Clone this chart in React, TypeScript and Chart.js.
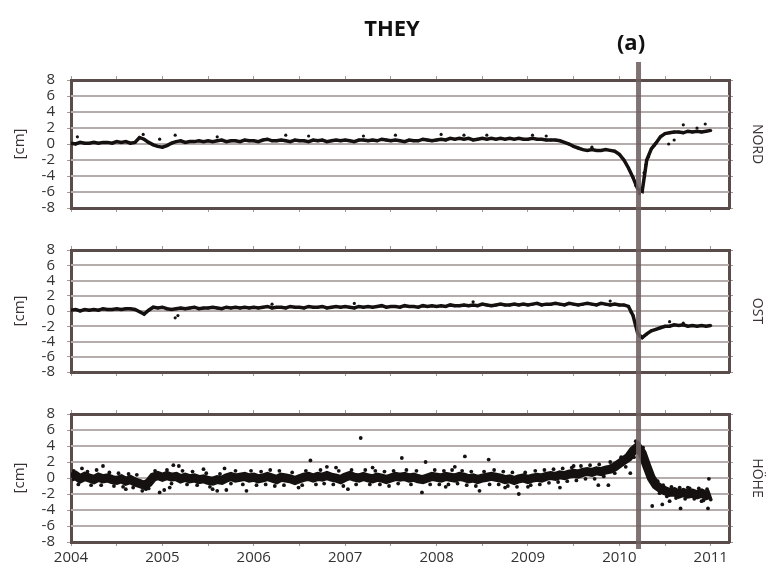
import React, { useEffect, useRef } from "react";
import { Chart, registerables } from "chart.js";

Chart.register(...registerables);

// ---------------- data ----------------
const TITLE = "THEY";
const EVENT_LABEL = "(a)";
const UNIT = "[cm]";
const PANEL_LABELS = ["NORD", "OST", "HÖHE"];

const START_YEAR = 2004;
const STEP = 0.05; // sampling interval of the series (years)
const X_MIN = 2004;
const X_MAX = 2011.2;
const YEAR_TICKS = [2004, 2005, 2006, 2007, 2008, 2009, 2010, 2011];
const Y_TICKS = [-8, -6, -4, -2, 0, 2, 4, 6, 8];
const EVENT_YEAR = 2010.21;

const NORD = [
  0.1, 0.0, 0.2, 0.1, 0.1, 0.2, 0.1, 0.2, 0.2, 0.1,
  0.3, 0.2, 0.3, 0.1, 0.2, 0.8, 0.6, 0.2, -0.1, -0.3,
  -0.4, -0.2, 0.1, 0.3, 0.4, 0.2, 0.3, 0.3, 0.4, 0.3,
  0.4, 0.3, 0.4, 0.5, 0.3, 0.4, 0.4, 0.3, 0.5, 0.4,
  0.4, 0.3, 0.5, 0.6, 0.4, 0.4, 0.5, 0.4, 0.3, 0.5,
  0.4, 0.4, 0.3, 0.5, 0.4, 0.5, 0.3, 0.4, 0.5, 0.4,
  0.5, 0.4, 0.3, 0.5, 0.5, 0.4, 0.5, 0.4, 0.6, 0.5,
  0.4, 0.5, 0.4, 0.3, 0.5, 0.4, 0.4, 0.6, 0.5, 0.4,
  0.5, 0.6, 0.5, 0.7, 0.6, 0.7, 0.6, 0.7, 0.5, 0.6,
  0.7, 0.6, 0.7, 0.6, 0.7, 0.6, 0.7, 0.6, 0.7, 0.6,
  0.6, 0.7, 0.6, 0.6, 0.5, 0.5, 0.5, 0.4, 0.2, 0.0,
  -0.3, -0.5, -0.7, -0.8, -0.7, -0.8, -0.8, -0.7, -0.8, -0.9,
  -1.3, -2.0, -3.0, -4.2, -5.6, -5.9, -2.0, -0.6, 0.1, 0.9,
  1.3, 1.4, 1.5, 1.5, 1.4, 1.6, 1.5, 1.6, 1.5, 1.6,
  1.7,
];

const OST = [
  0.1, 0.2, 0.0, 0.2, 0.1, 0.2, 0.1, 0.3, 0.2, 0.2,
  0.3, 0.2, 0.3, 0.3, 0.2, -0.1, -0.4, 0.1, 0.5, 0.4,
  0.5, 0.3, 0.2, 0.3, 0.4, 0.3, 0.4, 0.5, 0.3, 0.4,
  0.4, 0.5, 0.4, 0.3, 0.5, 0.4, 0.5, 0.4, 0.5, 0.4,
  0.5, 0.4, 0.5, 0.6, 0.4, 0.5, 0.5, 0.4, 0.6, 0.5,
  0.5, 0.4, 0.6, 0.5, 0.5, 0.6, 0.4, 0.5, 0.6, 0.5,
  0.6, 0.5, 0.4, 0.6, 0.5, 0.6, 0.5, 0.6, 0.7, 0.5,
  0.6, 0.6, 0.5, 0.7, 0.6, 0.6, 0.5, 0.7, 0.6, 0.7,
  0.6, 0.7, 0.6, 0.8, 0.7, 0.7, 0.8, 0.7, 0.8, 0.7,
  0.9, 0.8, 0.7, 0.8, 0.9, 0.8, 0.8, 0.9, 0.8, 0.9,
  0.8, 0.9, 1.0, 0.8, 0.9, 0.9, 1.0, 0.9, 0.8, 1.0,
  0.9, 0.8, 0.9, 1.0, 0.9, 0.8, 1.0, 0.9, 0.8, 0.9,
  0.8, 0.8, 0.6, -0.6, -2.9, -3.5, -3.0, -2.6, -2.4, -2.2,
  -2.0, -2.0, -1.8, -1.9, -1.8, -2.0, -1.9, -2.0, -1.9, -2.0,
  -1.9,
];

const HOEHE = [
  0.1, 0.3, -0.1, 0.2, 0.0, -0.2, 0.1, -0.1, 0.0, -0.2,
  -0.3, -0.1, -0.4, -0.2, -0.5, -0.7, -0.9, -0.6, 0.1, 0.3,
  0.1, 0.3, 0.1, 0.2, -0.1, 0.1, -0.1, 0.0, -0.2, -0.1,
  -0.3, -0.4, -0.2, -0.3, 0.0, 0.2, 0.0, 0.1, 0.2, 0.0,
  0.1, -0.1, 0.0, 0.2, 0.0, -0.2, 0.1, 0.0, -0.1, -0.3,
  -0.1, 0.1, 0.2, 0.0, 0.2, 0.1, 0.3, 0.1, 0.0, -0.2,
  0.1, 0.3, 0.1, 0.0, 0.2, 0.0, -0.1, 0.1, 0.0, -0.2,
  0.0, 0.2, 0.1, 0.2, 0.0, 0.1, -0.1, -0.2, 0.0, 0.2,
  0.1, 0.0, 0.2, 0.1, 0.0, 0.2, 0.1, -0.1, 0.0, -0.2,
  0.0, 0.1, 0.2, 0.1, 0.0, -0.2, -0.1, -0.3, -0.1, 0.0,
  -0.2, 0.0, 0.1, 0.0, 0.2, 0.3, 0.2, 0.4, 0.3, 0.5,
  0.6, 0.5, 0.7, 0.8, 0.7, 0.9, 0.8, 1.0, 1.1, 1.4,
  1.8, 2.2, 2.6, 3.4, 3.9, 3.1, 1.5, 0.0, -0.9, -1.3,
  -1.6, -1.8, -1.7, -2.0, -1.8, -2.0, -1.9, -2.1, -1.9, -2.2,
  -2.0,
];

const NORD_SCATTER = [
  { x: 2004.07, y: 0.9 }, { x: 2004.79, y: 1.2 }, { x: 2004.97, y: 0.6 },
  { x: 2005.14, y: 1.1 }, { x: 2005.6, y: 0.9 }, { x: 2006.35, y: 1.1 },
  { x: 2006.6, y: 1.0 }, { x: 2007.2, y: 1.0 }, { x: 2007.55, y: 1.1 },
  { x: 2008.05, y: 1.2 }, { x: 2008.3, y: 1.1 }, { x: 2008.55, y: 1.1 },
  { x: 2009.05, y: 1.1 }, { x: 2009.2, y: 1.0 }, { x: 2009.7, y: -0.4 },
  { x: 2010.18, y: -5.2 }, { x: 2010.22, y: -6.2 }, { x: 2010.24, y: -5.6 },
  { x: 2010.27, y: -3.6 }, { x: 2010.29, y: -2.6 }, { x: 2010.32, y: -1.6 },
  { x: 2010.38, y: -0.2 }, { x: 2010.54, y: 0.0 }, { x: 2010.6, y: 0.5 },
  { x: 2010.7, y: 2.4 }, { x: 2010.85, y: 2.0 }, { x: 2010.94, y: 2.5 },
];

const OST_SCATTER = [
  { x: 2005.14, y: -0.9 }, { x: 2005.17, y: -0.6 }, { x: 2006.2, y: 0.9 },
  { x: 2007.1, y: 1.0 }, { x: 2008.4, y: 1.2 }, { x: 2009.9, y: 1.3 },
  { x: 2010.13, y: -0.2 }, { x: 2010.18, y: -1.9 }, { x: 2010.22, y: -3.3 },
  { x: 2010.55, y: -1.4 }, { x: 2010.7, y: -1.6 },
];

const HOEHE_SCATTER = [
  { x: 2004.12, y: 1.2 }, { x: 2004.35, y: 1.5 }, { x: 2004.6, y: -1.4 },
  { x: 2004.78, y: -1.6 }, { x: 2004.85, y: -1.3 }, { x: 2004.97, y: -1.8 },
  { x: 2005.02, y: -1.5 }, { x: 2005.08, y: -1.2 }, { x: 2005.12, y: 1.6 },
  { x: 2005.18, y: 1.5 }, { x: 2005.45, y: 1.1 }, { x: 2005.55, y: -1.4 },
  { x: 2005.6, y: -1.6 }, { x: 2005.68, y: 1.2 }, { x: 2005.7, y: -1.5 },
  { x: 2005.92, y: -1.6 }, { x: 2006.23, y: -1.0 }, { x: 2006.49, y: -1.2 },
  { x: 2006.62, y: 2.2 }, { x: 2006.8, y: 1.4 }, { x: 2006.9, y: 1.3 },
  { x: 2007.03, y: -1.4 }, { x: 2007.17, y: 5.0 }, { x: 2007.3, y: 1.3 },
  { x: 2007.62, y: 2.5 }, { x: 2007.84, y: -1.8 }, { x: 2007.88, y: 2.0 },
  { x: 2008.1, y: -1.1 }, { x: 2008.2, y: 1.4 }, { x: 2008.31, y: 2.7 },
  { x: 2008.47, y: -1.6 }, { x: 2008.57, y: 2.3 }, { x: 2008.75, y: -1.2 },
  { x: 2008.9, y: -2.0 }, { x: 2009.0, y: -1.1 }, { x: 2009.35, y: -1.2 },
  { x: 2009.5, y: 1.5 }, { x: 2009.77, y: -0.9 }, { x: 2009.88, y: -0.9 },
  { x: 2010.12, y: 0.6 }, { x: 2010.18, y: 4.6 }, { x: 2010.36, y: -3.5 },
  { x: 2010.47, y: -3.3 }, { x: 2010.55, y: -2.9 }, { x: 2010.67, y: -3.8 },
  { x: 2010.75, y: -1.2 }, { x: 2010.9, y: -2.9 }, { x: 2010.97, y: -3.8 },
  { x: 2010.98, y: -0.1 },
  // points along the upper and lower edge of the dense band
  { x: 2004.03, y: 0.9 }, { x: 2004.08, y: -0.8 }, { x: 2004.18, y: 0.8 }, { x: 2004.22, y: -0.9 },
  { x: 2004.28, y: 1.0 }, { x: 2004.33, y: -0.9 }, { x: 2004.42, y: 0.7 }, { x: 2004.47, y: -1.0 },
  { x: 2004.52, y: 0.6 }, { x: 2004.57, y: -1.1 }, { x: 2004.63, y: 0.5 }, { x: 2004.68, y: -1.2 },
  { x: 2004.72, y: 0.4 }, { x: 2004.82, y: -1.4 }, { x: 2004.92, y: 0.9 }, { x: 2005.05, y: 1.0 },
  { x: 2005.1, y: -0.7 }, { x: 2005.22, y: 0.9 }, { x: 2005.27, y: -0.8 }, { x: 2005.33, y: 0.8 },
  { x: 2005.38, y: -0.9 }, { x: 2005.48, y: 0.6 }, { x: 2005.52, y: -1.1 }, { x: 2005.63, y: 0.5 },
  { x: 2005.75, y: -0.7 }, { x: 2005.8, y: 0.9 }, { x: 2005.88, y: -0.8 }, { x: 2005.97, y: 0.9 },
  { x: 2006.03, y: -0.9 }, { x: 2006.08, y: 0.8 }, { x: 2006.13, y: -0.8 }, { x: 2006.18, y: 1.0 },
  { x: 2006.28, y: 0.9 }, { x: 2006.33, y: -0.9 }, { x: 2006.42, y: 0.7 }, { x: 2006.53, y: -0.9 },
  { x: 2006.57, y: 0.9 }, { x: 2006.68, y: -0.8 }, { x: 2006.73, y: 1.0 }, { x: 2006.77, y: -0.7 },
  { x: 2006.87, y: -0.8 }, { x: 2006.93, y: 0.9 }, { x: 2006.98, y: -1.0 }, { x: 2007.07, y: 1.0 },
  { x: 2007.12, y: -0.8 }, { x: 2007.22, y: 1.0 }, { x: 2007.27, y: -0.8 }, { x: 2007.33, y: 0.9 },
  { x: 2007.38, y: -0.8 }, { x: 2007.43, y: 0.8 }, { x: 2007.48, y: -1.0 }, { x: 2007.53, y: 0.9 },
  { x: 2007.58, y: -0.7 }, { x: 2007.67, y: 1.0 }, { x: 2007.72, y: -0.8 }, { x: 2007.78, y: 0.9 },
  { x: 2007.93, y: -0.8 }, { x: 2007.98, y: 1.0 }, { x: 2008.03, y: -0.8 }, { x: 2008.08, y: 0.9 },
  { x: 2008.13, y: -0.8 }, { x: 2008.17, y: 1.0 }, { x: 2008.23, y: -0.7 }, { x: 2008.28, y: 0.9 },
  { x: 2008.33, y: -0.9 }, { x: 2008.38, y: 0.8 }, { x: 2008.43, y: -1.0 }, { x: 2008.52, y: 0.8 },
  { x: 2008.58, y: -0.8 }, { x: 2008.63, y: 1.0 }, { x: 2008.68, y: -0.8 }, { x: 2008.73, y: 0.8 },
  { x: 2008.78, y: -1.0 }, { x: 2008.83, y: 0.7 }, { x: 2008.88, y: -1.1 }, { x: 2008.97, y: 0.7 },
  { x: 2009.03, y: -0.9 }, { x: 2009.08, y: 0.9 }, { x: 2009.13, y: -0.8 }, { x: 2009.18, y: 1.0 },
  { x: 2009.23, y: -0.6 }, { x: 2009.28, y: 1.1 }, { x: 2009.33, y: -0.5 }, { x: 2009.38, y: 1.2 },
  { x: 2009.43, y: -0.4 }, { x: 2009.48, y: 1.3 }, { x: 2009.53, y: -0.3 }, { x: 2009.58, y: 1.5 },
  { x: 2009.63, y: -0.1 }, { x: 2009.68, y: 1.6 }, { x: 2009.73, y: -0.1 }, { x: 2009.78, y: 1.7 },
  { x: 2009.83, y: 0.2 }, { x: 2009.9, y: 2.0 }, { x: 2009.95, y: 0.6 }, { x: 2010.02, y: 2.6 },
  { x: 2010.07, y: 1.4 }, { x: 2010.13, y: 3.4 }, { x: 2010.16, y: 2.6 }, { x: 2010.2, y: 4.3 },
  { x: 2010.22, y: 3.2 }, { x: 2010.26, y: 3.8 }, { x: 2010.28, y: 2.2 }, { x: 2010.31, y: 0.7 },
  { x: 2010.33, y: 1.2 }, { x: 2010.37, y: -0.8 }, { x: 2010.42, y: -0.4 }, { x: 2010.44, y: -1.9 },
  { x: 2010.48, y: -0.9 }, { x: 2010.52, y: -2.3 }, { x: 2010.57, y: -1.1 }, { x: 2010.62, y: -2.5 },
  { x: 2010.66, y: -1.2 }, { x: 2010.72, y: -2.6 }, { x: 2010.77, y: -1.3 }, { x: 2010.82, y: -2.6 },
  { x: 2010.87, y: -1.3 }, { x: 2010.92, y: -2.8 }, { x: 2010.96, y: -1.4 }, { x: 2011.0, y: -2.7 },
];

// ---------------- styling ----------------
const FONT = '"Open Sans", "DejaVu Sans", sans-serif';
const FRAME = "#5b4c4c";
const GRID = "#b5acac";
const TICKMARK = "#a39999";
const INK = "#161111";
const EVENT_COLOR = "rgba(110, 96, 96, 0.88)";

const X_MINOR = YEAR_TICKS.flatMap((y, i) => (i < YEAR_TICKS.length - 1 ? [y, y + 0.5] : [y]));
const toXY = (vals: number[]) => vals.map((v, i) => ({ x: START_YEAR + i * STEP, y: v }));

type PanelCfg = {
  label: string;
  main: number[];
  scatter: { x: number; y: number }[];
  mainWidth: number;
  pointR: number;
  scatterR: number;
  top: number;
  height: number;
  padTop: number;
  padBottom: number;
  bottomH: number;
  showYears: boolean;
  lineTop: number;
  lineBottom: number;
  heading: boolean;
};

const PANELS: PanelCfg[] = [
  { label: PANEL_LABELS[0], main: NORD, scatter: NORD_SCATTER, mainWidth: 3.5, pointR: 1.5, scatterR: 1.6, top: 0, height: 229, padTop: 74, padBottom: 10, bottomH: 6, showYears: false, lineTop: 62, lineBottom: 229, heading: true },
  { label: PANEL_LABELS[1], main: OST, scatter: OST_SCATTER, mainWidth: 3.5, pointR: 1.5, scatterR: 1.6, top: 229, height: 164, padTop: 10, padBottom: 10, bottomH: 6, showYears: false, lineTop: 0, lineBottom: 164, heading: false },
  { label: PANEL_LABELS[2], main: HOEHE, scatter: HOEHE_SCATTER, mainWidth: 9, pointR: 0, scatterR: 1.9, top: 393, height: 174, padTop: 11, padBottom: 0, bottomH: 25, showYears: true, lineTop: 0, lineBottom: 156, heading: false },
];

function makeChart(canvas: HTMLCanvasElement, p: PanelCfg) {
  const xBase: any = {
    type: "linear",
    min: X_MIN,
    max: X_MAX,
    afterBuildTicks: (s: any) => {
      s.ticks = X_MINOR.map((v) => ({ value: v }));
    },
    grid: { drawOnChartArea: false, drawTicks: true, tickLength: 4, color: TICKMARK, lineWidth: 1 },
    border: { display: true, color: FRAME, width: 3 },
  };

  const deco = {
    id: "deco" + p.label,
    beforeDatasetsDraw(chart: any) {
      // horizontal grid lines at the inner y ticks
      const { ctx, chartArea, scales } = chart;
      ctx.save();
      ctx.strokeStyle = GRID;
      ctx.lineWidth = 2;
      Y_TICKS.forEach((v) => {
        if (Math.abs(v) === 8) return;
        const py = Math.round(scales.y.getPixelForValue(v));
        ctx.beginPath();
        ctx.moveTo(chartArea.left, py);
        ctx.lineTo(chartArea.right, py);
        ctx.stroke();
      });
      ctx.restore();
    },
    afterDraw(chart: any) {
      const { ctx, chartArea, scales } = chart;
      const cy = (chartArea.top + chartArea.bottom) / 2;
      ctx.save();
      // event line
      const ex = scales.x.getPixelForValue(EVENT_YEAR);
      ctx.strokeStyle = EVENT_COLOR;
      ctx.lineWidth = 5;
      ctx.beginPath();
      ctx.moveTo(ex, p.lineTop);
      ctx.lineTo(ex, p.lineBottom);
      ctx.stroke();

      ctx.fillStyle = "#3a3333";
      ctx.textAlign = "center";
      ctx.textBaseline = "middle";
      // unit label
      ctx.save();
      ctx.font = "15px " + FONT;
      ctx.translate(20, cy);
      ctx.rotate(-Math.PI / 2);
      ctx.fillText(UNIT, 0, 0);
      ctx.restore();
      // component label
      ctx.save();
      ctx.font = "14px " + FONT;
      ctx.translate(757, cy);
      ctx.rotate(Math.PI / 2);
      ctx.fillText(p.label, 0, 0);
      ctx.restore();

      if (p.heading) {
        ctx.fillStyle = "#111";
        ctx.font = "bold 22px " + FONT;
        ctx.fillText(TITLE, 392, 30);
        ctx.fillText(EVENT_LABEL, 631, 44);
      }
      ctx.restore();
    },
  };

  return new Chart(canvas, {
    type: "scatter",
    data: {
      datasets: [
        {
          data: toXY(p.main),
          showLine: true,
          borderColor: INK,
          borderWidth: p.mainWidth,
          backgroundColor: INK,
          pointRadius: p.pointR,
          pointBorderWidth: 0,
          xAxisID: "x",
          yAxisID: "y",
        } as any,
        {
          data: p.scatter,
          showLine: false,
          backgroundColor: INK,
          borderWidth: 0,
          pointRadius: p.scatterR,
          xAxisID: "x",
          yAxisID: "y",
        } as any,
      ],
    },
    options: {
      responsive: false,
      animation: false,
      devicePixelRatio: 1,
      layout: { padding: { top: p.padTop, bottom: p.padBottom, left: 0, right: 36 } },
      plugins: { legend: { display: false }, tooltip: { enabled: false }, title: { display: false } },
      scales: {
        x: {
          ...xBase,
          position: "bottom",
          ticks: {
            display: p.showYears,
            autoSkip: false,
            maxRotation: 0,
            padding: 3,
            color: "#333",
            font: { family: FONT, size: 15 },
            callback: (v: any) => (Number.isInteger(v) ? String(v) : ""),
          },
          afterFit: (s: any) => {
            s.height = p.bottomH;
          },
        },
        xt: {
          ...xBase,
          position: "top",
          ticks: { display: false, autoSkip: false },
          afterFit: (s: any) => {
            s.height = 6;
          },
        },
        y: {
          type: "linear",
          position: "left",
          min: -8,
          max: 8,
          afterBuildTicks: (s: any) => {
            s.ticks = Y_TICKS.map((v) => ({ value: v }));
          },
          ticks: {
            autoSkip: false,
            padding: 12,
            color: "#333",
            font: { family: FONT, size: 15 },
            callback: (v: any) => String(v),
          },
          grid: {
            drawOnChartArea: false,
            drawTicks: true,
            tickLength: 4,
            color: TICKMARK,
            lineWidth: 1,
          },
          border: { display: true, color: FRAME, width: 3 },
          afterFit: (s: any) => {
            s.width = 71;
          },
        },
        yr: {
          type: "linear",
          position: "right",
          min: -8,
          max: 8,
          afterBuildTicks: (s: any) => {
            s.ticks = Y_TICKS.map((v) => ({ value: v }));
          },
          ticks: { display: false, autoSkip: false },
          grid: { drawOnChartArea: false, drawTicks: true, tickLength: 4, color: TICKMARK, lineWidth: 1 },
          border: { display: true, color: FRAME, width: 3 },
          afterFit: (s: any) => {
            s.width = 6;
          },
        },
      } as any,
    },
    plugins: [deco],
  });
}

export default function App() {
  const refs = [useRef<HTMLCanvasElement>(null), useRef<HTMLCanvasElement>(null), useRef<HTMLCanvasElement>(null)];

  useEffect(() => {
    const charts = PANELS.map((p, i) => makeChart(refs[i].current as HTMLCanvasElement, p));
    return () => charts.forEach((c) => c.destroy());
  }, []);

  return (
    <div style={{ position: "absolute", left: 0, top: 0, width: 771, height: 567, background: "#fff" }}>
      {PANELS.map((p, i) => (
        <canvas
          key={p.label}
          ref={refs[i]}
          width={771}
          height={p.height}
          style={{ position: "absolute", left: 0, top: p.top, width: 771, height: p.height, display: "block" }}
        />
      ))}
    </div>
  );
}
